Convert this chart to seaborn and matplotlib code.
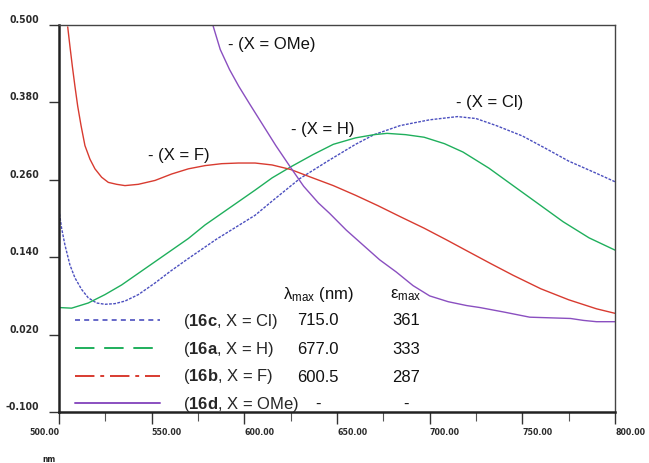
import numpy as np
import pandas as pd
import matplotlib
matplotlib.use("Agg")
import matplotlib.pyplot as plt
import seaborn as sns
from matplotlib.lines import Line2D
from matplotlib.ticker import MultipleLocator

# ---------------- data ----------------
cl_nm = [499.6, 501.4, 503.2, 505.9, 508.6, 512.2, 515.8, 520.3, 524.8, 530.2, 535.6,
         542.8, 551.8, 560.0, 569.8, 585, 605.8, 615, 630, 645, 660, 670, 684, 691,
         700, 715, 725, 736, 750, 763, 775, 790, 800]
cl_abs = [0.220, 0.185, 0.159, 0.128, 0.108, 0.090, 0.077, 0.069, 0.067, 0.068, 0.072,
          0.082, 0.100, 0.118, 0.138, 0.168, 0.205, 0.227, 0.262, 0.289, 0.315, 0.330,
          0.344, 0.348, 0.353, 0.358, 0.355, 0.344, 0.328, 0.308, 0.289, 0.270, 0.257]

h_nm = [499.6, 506.8, 515.8, 524.8, 533.8, 551.8, 569.8, 578.8, 587.8, 605.8, 615, 625,
        637, 648, 660, 670, 677, 687, 697, 708, 718, 732, 745, 759, 772, 786, 800]
h_abs = [0.062, 0.061, 0.069, 0.082, 0.097, 0.133, 0.169, 0.190, 0.208, 0.244, 0.263,
         0.280, 0.299, 0.315, 0.325, 0.330, 0.332, 0.330, 0.326, 0.316, 0.303, 0.278,
         0.251, 0.222, 0.195, 0.170, 0.151]

f_nm = [504.7, 505.9, 507.2, 508.6, 510.1, 511.9, 514.0, 516.7, 519.4, 523.0, 526.6,
        531.1, 535.6, 542.8, 551.8, 560.8, 569.8, 578.8, 587.8, 596.8, 605.8, 615,
        625, 635, 648, 660, 672, 684, 697, 709, 720, 733, 745, 760, 775, 790, 800]
f_abs = [0.497, 0.467, 0.436, 0.405, 0.374, 0.344, 0.313, 0.292, 0.277, 0.264, 0.256,
         0.253, 0.251, 0.253, 0.259, 0.269, 0.277, 0.282, 0.285, 0.286, 0.286, 0.283,
         0.276, 0.265, 0.251, 0.236, 0.220, 0.203, 0.185, 0.167, 0.150, 0.130, 0.112,
         0.091, 0.074, 0.060, 0.053]

ome_nm = [583, 587, 592, 597, 603, 610, 617, 625, 632, 640, 646, 655, 664, 673, 682,
          691, 700, 710, 720, 727, 740, 754, 765, 776, 783, 790, 800]
ome_abs = [0.500, 0.462, 0.431, 0.405, 0.377, 0.345, 0.313, 0.279, 0.250, 0.224, 0.208,
           0.182, 0.159, 0.136, 0.117, 0.096, 0.080, 0.071, 0.065, 0.062, 0.055, 0.047,
           0.046, 0.045, 0.042, 0.040, 0.040]

legend_labels = [r"($\bf{16c}$, X = Cl)", r"($\bf{16a}$, X = H)",
                 r"($\bf{16b}$, X = F)", r"($\bf{16d}$, X = OMe)"]
lambda_max = ["715.0", "677.0", "600.5", "-"]
eps_max = ["361", "333", "287", "-"]
curve_labels = ["- (X = Cl)", "- (X = H)", "- (X = F)", "- (X = OMe)"]
xtick_vals = [500, 550, 600, 650, 700, 750, 800]
xtick_labels = ["500.00", "550.00", "600.00", "650.00", "700.00", "750.00", "800.00"]
ytick_vals = [0.5, 0.38, 0.26, 0.14, 0.02, -0.1]
ytick_labels = ["0.500", "0.380", "0.260", "0.140", "0.020", "-0.100"]

# ---------------- style ----------------
sns.set_theme(style="white")
plt.rcParams["font.family"] = ["Liberation Sans", "DejaVu Sans"]
plt.rcParams["mathtext.fontset"] = "custom"
plt.rcParams["mathtext.rm"] = "Liberation Sans"
plt.rcParams["mathtext.bf"] = "Liberation Sans:bold"
plt.rcParams["mathtext.it"] = "Liberation Sans:italic"

PX = 0.72  # points per pixel at 100 dpi
FS = 12
TICKFONT = dict(family="DejaVu Sans", stretch="condensed", weight="bold",
                color="#2a2a2a")

c_blue = "#4b4fbf"
c_green = "#1faf5c"
c_red = "#d83b30"
c_purple = "#8a4fc0"

fig = plt.figure(figsize=(6.49, 4.63), dpi=100)
ax = fig.add_axes([59 / 649, 1 - 412 / 463, (615 - 59) / 649, (412 - 25) / 463])

frames = []
for name, xs, ys in [("Cl", cl_nm, cl_abs), ("H", h_nm, h_abs),
                     ("F", f_nm, f_abs), ("OMe", ome_nm, ome_abs)]:
    frames.append(pd.DataFrame({"nm": xs, "A": ys, "s": name}))
df = pd.concat(frames, ignore_index=True)

styles = {"Cl": dict(color=c_blue, dashes=(2.0, 1.0)),
          "H": dict(color=c_green),
          "F": dict(color=c_red),
          "OMe": dict(color=c_purple)}
for name, st in styles.items():
    sub = df[df.s == name]
    sns.lineplot(data=sub, x="nm", y="A", ax=ax, color=st["color"], lw=1.0,
                 legend=False, sort=False)
    if "dashes" in st:
        ax.lines[-1].set_dashes(st["dashes"])

ax.set_xlim(500, 800)
ax.set_ylim(-0.1, 0.5)
ax.set_xlabel("")
ax.set_ylabel("")

# ticks
ax.set_xticks(xtick_vals)
ax.xaxis.set_minor_locator(MultipleLocator(25))
ax.set_xticklabels(xtick_labels, fontsize=6.3, **TICKFONT)
for i, t in enumerate(ax.get_xticklabels()):
    t.set_ha("right" if i == 0 else "left")
ax.set_yticks(ytick_vals)
ax.set_yticklabels(ytick_labels, va="bottom", fontsize=7.5, **TICKFONT)
ax.tick_params(axis="x", which="major", direction="out", length=12 * PX, width=1.0,
               color="#333333", pad=4 * PX, bottom=True)
ax.tick_params(axis="x", which="minor", direction="out", length=9 * PX, width=0.8,
               color="#555555", bottom=True)
ax.tick_params(axis="y", which="major", direction="out", length=10 * PX, width=1.0,
               color="#333333", pad=10 * PX, left=True)

for side in ["left", "bottom"]:
    ax.spines[side].set_linewidth(1.8)
    ax.spines[side].set_color("#222222")
for side in ["top", "right"]:
    ax.spines[side].set_linewidth(1.0)
    ax.spines[side].set_color("#444444")

# curve annotations
ann_pos = [(714.3, 0.380), (625.2, 0.3385), (548.1, 0.297), (591.2, 0.469)]
for lab, (xx, yy) in zip(curve_labels, ann_pos):
    ax.text(xx, yy, lab, fontsize=FS, ha="left", va="center", color="#111111")

# legend
handles = [Line2D([], [], color=c_blue, lw=1.2, dashes=(3.0, 2.5)),
           Line2D([], [], color=c_green, lw=1.4, dashes=(10, 5)),
           Line2D([], [], color=c_red, lw=1.4, dashes=(10, 3, 2, 3)),
           Line2D([], [], color=c_purple, lw=1.4)]
leg = ax.legend(handles, legend_labels, loc="upper left", frameon=False,
                bbox_to_anchor=(75 / 649, 1 - 312 / 463), bbox_transform=fig.transFigure,
                fontsize=FS, handlelength=5.1, handletextpad=1.4, labelspacing=0.52,
                borderpad=0, borderaxespad=0)

# table columns
row_y = [0.0415, -0.003, -0.0460, -0.0875]
ax.text(639.8, 0.0815, r"λ$_{\rm max}$ (nm)", fontsize=FS, ha="center", va="center",
        color="#111111")
ax.text(687.3, 0.0815, r"ε$_{\rm max}$", fontsize=FS, ha="center", va="center",
        color="#111111")
for yy, lm, em in zip(row_y, lambda_max, eps_max):
    ax.text(639.6, yy, lm, fontsize=FS, ha="center", va="center", color="#111111")
    ax.text(687.3, yy, em, fontsize=FS, ha="center", va="center", color="#111111")

fig.text(42 / 649, 1 - 460 / 463, "nm", family="DejaVu Sans", stretch="condensed",
         weight="bold", fontsize=6, ha="left", va="center", color="#222222")

fig.savefig("out.png", dpi=100)
